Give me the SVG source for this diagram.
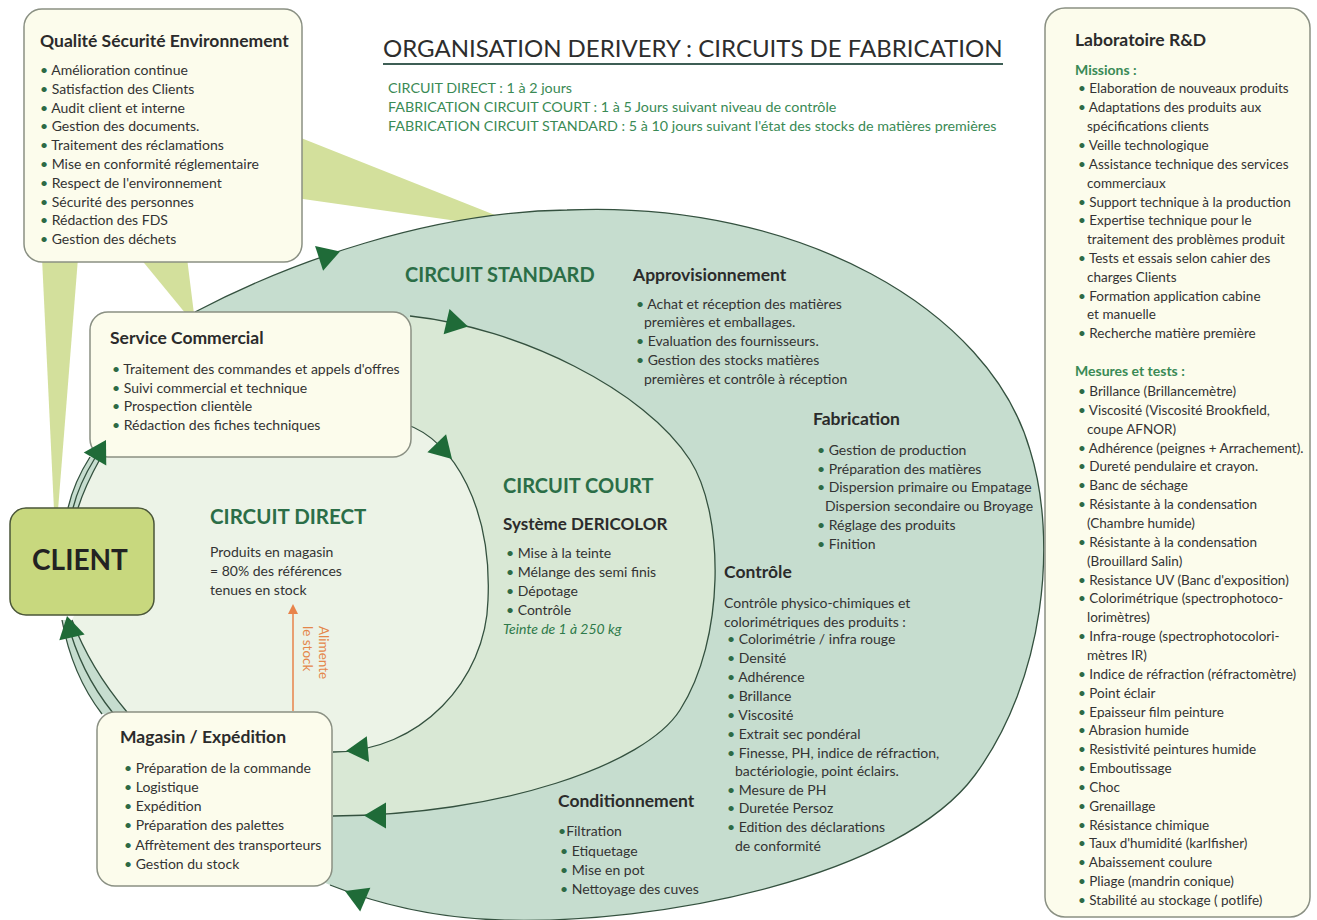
<svg xmlns="http://www.w3.org/2000/svg" width="1317" height="920" viewBox="0 0 1317 920">
<defs>
<style>
text{font-family:Lato,"Liberation Sans",sans-serif;fill:#333}
.box{fill:#fcfcec;stroke:#8a9083;stroke-width:1.5}
.h{font-size:17.5px;font-weight:700;fill:#2b2b2b}
.t{font-size:14px}
.tl{font-size:13.5px}
.big{font-size:20px;font-weight:700;fill:#2b6e47}
.sub{font-size:14.3px;fill:#3a8a55}
.gr{font-size:14px;font-weight:700;fill:#3a8a55}
.b{fill:#2d6a45}
.ln{fill:none;stroke:#34513f;stroke-width:1.3}
.ah{fill:#1f6b38}
.wedge{fill:#d3e09c}
.or{font-size:13.5px;fill:#e4864a}
</style>
<path id="ah" d="M0 0 L-22 -13 L-22 13 Z"/>
<marker id="oa" markerWidth="10" markerHeight="10" refX="8" refY="5" orient="auto" markerUnits="userSpaceOnUse"><path d="M0 0 L10 5 L0 10 Z" fill="#e8834a"/></marker>
</defs>
<rect width="1317" height="920" fill="#ffffff"/>

<!-- QSE beams -->
<g id="beams">
<polygon class="wedge" points="296,136 520,225 520,230 296,198"/>
<polygon class="wedge" points="42,258 78,258 58,510 54,510"/>
<polygon class="wedge" points="140,258 187,258 194,314 186,314"/>
</g>

<!-- circuit areas -->
<g id="areas">
<path fill="#c6ddcf" d="M195 312 C290 262 430 212 567 210 C800 200 990 310 1030 450 C1058 540 1045 680 975 775 C900 877 660 925 500 920 C440 918 380 905 330 885 L250 850 L250 400 Z"/>
<path fill="#d9e8d5" d="M410 316 C520 328 645 390 690 460 C725 515 725 640 680 710 C645 765 500 815 333 816 L300 816 L300 430 Z"/>
<path fill="#ecf3e7" d="M405 424 C455 440 492 510 488 600 C486 680 420 752 333 752 L250 760 L127 712 Q90 668 72 620 L100 560 L78 508 Q85 486 100 459 L200 440 Z"/>
<path fill="#c6ddcf" d="M68 508 Q74 482 90 457 L100 459 Q85 486 78 508 Z"/>
<path fill="#c6ddcf" d="M62 620 Q72 675 102 714 L127 712 Q90 668 72 620 Z"/>
</g>

<g id="connectors">
<path class="ln" d="M195 312 C290 262 430 212 567 210 C800 200 990 310 1030 450 C1058 540 1045 680 975 775 C900 877 660 925 500 920 C440 918 380 905 330 885"/>
<path class="ln" d="M410 316 C520 328 645 390 690 460 C725 515 725 640 680 710 C645 765 500 815 333 816"/>
<path class="ln" d="M405 424 C455 440 492 510 488 600 C486 680 420 752 333 752"/>
<path class="ln" d="M68 508 Q74 482 90 457"/>
<path class="ln" d="M73 508 Q79 484 95 458"/>
<path class="ln" d="M78 508 Q85 486 100 459"/>
<path class="ln" d="M62 620 Q72 675 102 714"/>
<path class="ln" d="M67 620 Q80 672 113 713"/>
<path class="ln" d="M72 620 Q90 668 127 712"/>
<line x1="293" y1="711" x2="293" y2="606" stroke="#e8834a" stroke-width="1.5" marker-end="url(#oa)"/>
</g>

<g id="title">
<text x="383" y="57" font-size="24" style="fill:#2d2d2d">ORGANISATION DERIVERY : CIRCUITS DE FABRICATION</text>
<line x1="383" y1="64" x2="1003" y2="64" stroke="#3e5e55" stroke-width="2"/>
<text class="sub" x="388" y="92.5">CIRCUIT DIRECT : 1 à 2 jours</text>
<text class="sub" x="388" y="111.5">FABRICATION CIRCUIT COURT : 1 à 5 Jours suivant niveau de contrôle</text>
<text class="sub" x="388" y="130.5">FABRICATION CIRCUIT STANDARD : 5 à 10 jours suivant l'état des stocks de matières premières</text>
</g>

<g id="qse">
<rect class="box" x="24" y="9" width="278" height="253" rx="18"/>
<text class="h" x="40" y="47">Qualité Sécurité Environnement</text>
<text class="t" x="40" y="75"><tspan class="b">•</tspan> Amélioration continue</text>
<text class="t" x="40" y="93.8"><tspan class="b">•</tspan> Satisfaction des Clients</text>
<text class="t" x="40" y="112.6"><tspan class="b">•</tspan> Audit client et interne</text>
<text class="t" x="40" y="131.4"><tspan class="b">•</tspan> Gestion des documents.</text>
<text class="t" x="40" y="150.2"><tspan class="b">•</tspan> Traitement des réclamations</text>
<text class="t" x="40" y="169"><tspan class="b">•</tspan> Mise en conformité réglementaire</text>
<text class="t" x="40" y="187.8"><tspan class="b">•</tspan> Respect de l'environnement</text>
<text class="t" x="40" y="206.6"><tspan class="b">•</tspan> Sécurité des personnes</text>
<text class="t" x="40" y="225.4"><tspan class="b">•</tspan> Rédaction des FDS</text>
<text class="t" x="40" y="244.2"><tspan class="b">•</tspan> Gestion des déchets</text>
</g>

<g id="service-commercial">
<rect class="box" x="90" y="312" width="321" height="145" rx="18"/>
<text class="h" x="110" y="344">Service Commercial</text>
<text class="t" x="112" y="374"><tspan class="b">•</tspan> Traitement des commandes et appels d'offres</text>
<text class="t" x="112" y="392.5"><tspan class="b">•</tspan> Suivi commercial et technique</text>
<text class="t" x="112" y="411"><tspan class="b">•</tspan> Prospection clientèle</text>
<text class="t" x="112" y="430"><tspan class="b">•</tspan> Rédaction des fiches techniques</text>
</g>

<g id="client">
<rect x="10" y="508" width="144" height="107" rx="16" fill="#c8d87e" stroke="#4a5638" stroke-width="1.5"/>
<text x="80" y="570" font-size="28" font-weight="700" text-anchor="middle" style="fill:#222">CLIENT</text>
</g>

<g id="magasin">
<rect class="box" x="97" y="712" width="235" height="174" rx="18"/>
<text class="h" x="120" y="743">Magasin / Expédition</text>
<text class="t" x="124" y="773"><tspan class="b">•</tspan> Préparation de la commande</text>
<text class="t" x="124" y="792"><tspan class="b">•</tspan> Logistique</text>
<text class="t" x="124" y="810.5"><tspan class="b">•</tspan> Expédition</text>
<text class="t" x="124" y="830"><tspan class="b">•</tspan> Préparation des palettes</text>
<text class="t" x="124" y="849.5"><tspan class="b">•</tspan> Affrètement des transporteurs</text>
<text class="t" x="124" y="869"><tspan class="b">•</tspan> Gestion du stock</text>
</g>

<g id="circuit-direct">
<text x="210" y="524" font-size="20.5" font-weight="700" style="fill:#2b6e47">CIRCUIT DIRECT</text>
<text class="t" x="210" y="557">Produits en magasin</text>
<text class="t" x="210" y="576">= 80% des références</text>
<text class="t" x="210" y="595">tenues en stock</text>
<text class="or" transform="translate(319 626) rotate(90)">Alimente</text>
<text class="or" transform="translate(303 626) rotate(90)">le stock</text>
</g>

<g id="circuit-court">
<text class="big" x="503" y="493">CIRCUIT COURT</text>
<text x="503" y="530" font-size="17" font-weight="700" style="fill:#2b2b2b">Système DERICOLOR</text>
<text class="t" x="506" y="558"><tspan class="b">•</tspan> Mise à la teinte</text>
<text class="t" x="506" y="577"><tspan class="b">•</tspan> Mélange des semi finis</text>
<text class="t" x="506" y="596"><tspan class="b">•</tspan> Dépotage</text>
<text class="t" x="506" y="615"><tspan class="b">•</tspan> Contrôle</text>
<text class="t" x="503" y="634" font-style="italic" style="fill:#2e7a4a">Teinte de 1 à 250 kg</text>
</g>

<g id="circuit-standard">
<text class="big" x="405" y="282">CIRCUIT STANDARD</text>
<text class="h" x="633" y="281">Approvisionnement</text>
<text class="t" x="636" y="309"><tspan class="b">•</tspan> Achat et réception des matières</text>
<text class="t" x="644" y="327">premières et emballages.</text>
<text class="t" x="636" y="346"><tspan class="b">•</tspan> Evaluation des fournisseurs.</text>
<text class="t" x="636" y="365"><tspan class="b">•</tspan> Gestion des stocks matières</text>
<text class="t" x="644" y="384">premières et contrôle à réception</text>
</g>

<g id="fabrication">
<text class="h" x="813" y="425">Fabrication</text>
<text class="t" x="817" y="455"><tspan class="b">•</tspan> Gestion de production</text>
<text class="t" x="817" y="473.5"><tspan class="b">•</tspan> Préparation des matières</text>
<text class="t" x="817" y="492"><tspan class="b">•</tspan> Dispersion primaire ou Empatage</text>
<text class="t" x="825" y="511">Dispersion secondaire ou Broyage</text>
<text class="t" x="817" y="530"><tspan class="b">•</tspan> Réglage des produits</text>
<text class="t" x="817" y="548.5"><tspan class="b">•</tspan> Finition</text>
</g>

<g id="controle">
<text class="h" x="724" y="578">Contrôle</text>
<text class="t" x="724" y="608">Contrôle physico-chimiques et</text>
<text class="t" x="724" y="626.5">colorimétriques  des produits :</text>
<text class="t" x="727" y="644"><tspan class="b">•</tspan> Colorimétrie / infra rouge</text>
<text class="t" x="727" y="663"><tspan class="b">•</tspan> Densité</text>
<text class="t" x="727" y="682"><tspan class="b">•</tspan> Adhérence</text>
<text class="t" x="727" y="700.5"><tspan class="b">•</tspan> Brillance</text>
<text class="t" x="727" y="719.5"><tspan class="b">•</tspan> Viscosité</text>
<text class="t" x="727" y="739"><tspan class="b">•</tspan> Extrait sec pondéral</text>
<text class="t" x="727" y="757.5"><tspan class="b">•</tspan> Finesse, PH, indice de réfraction,</text>
<text class="t" x="735" y="776">bactériologie, point éclairs.</text>
<text class="t" x="727" y="794.5"><tspan class="b">•</tspan> Mesure de PH</text>
<text class="t" x="727" y="813"><tspan class="b">•</tspan> Duretée Persoz</text>
<text class="t" x="727" y="832"><tspan class="b">•</tspan> Edition des déclarations</text>
<text class="t" x="735" y="851">de conformité</text>
</g>

<g id="conditionnement">
<text class="h" x="558" y="807">Conditionnement</text>
<text class="t" x="558" y="836"><tspan class="b">•</tspan>Filtration</text>
<text class="t" x="560" y="856"><tspan class="b">•</tspan> Etiquetage</text>
<text class="t" x="560" y="875"><tspan class="b">•</tspan> Mise en pot</text>
<text class="t" x="560" y="894"><tspan class="b">•</tspan> Nettoyage des cuves</text>
</g>

<g id="laboratoire">
<rect class="box" x="1045" y="8" width="265" height="909" rx="20"/>
<text class="h" x="1075" y="46">Laboratoire R&amp;D</text>
<text class="gr" x="1075" y="75">Missions :</text>
<text class="tl" x="1078" y="93"><tspan class="b">•</tspan> Elaboration de nouveaux produits</text>
<text class="tl" x="1078" y="112"><tspan class="b">•</tspan> Adaptations des produits aux</text>
<text class="tl" x="1087" y="131">spécifications clients</text>
<text class="tl" x="1078" y="150"><tspan class="b">•</tspan> Veille technologique</text>
<text class="tl" x="1078" y="169"><tspan class="b">•</tspan> Assistance technique des services</text>
<text class="tl" x="1087" y="188">commerciaux</text>
<text class="tl" x="1078" y="206.5"><tspan class="b">•</tspan> Support technique à la production</text>
<text class="tl" x="1078" y="225"><tspan class="b">•</tspan> Expertise technique pour le</text>
<text class="tl" x="1087" y="244">traitement des problèmes produit</text>
<text class="tl" x="1078" y="263"><tspan class="b">•</tspan> Tests et essais selon cahier des</text>
<text class="tl" x="1087" y="281.5">charges Clients</text>
<text class="tl" x="1078" y="300.5"><tspan class="b">•</tspan> Formation application cabine</text>
<text class="tl" x="1087" y="319">et manuelle</text>
<text class="tl" x="1078" y="338"><tspan class="b">•</tspan> Recherche matière première</text>
<text class="gr" x="1075" y="376">Mesures et tests :</text>
<text class="tl" x="1078" y="396"><tspan class="b">•</tspan> Brillance (Brillancemètre)</text>
<text class="tl" x="1078" y="414.9"><tspan class="b">•</tspan> Viscosité (Viscosité Brookfield,</text>
<text class="tl" x="1087" y="433.7">coupe AFNOR)</text>
<text class="tl" x="1078" y="452.6"><tspan class="b">•</tspan> Adhérence (peignes + Arrachement).</text>
<text class="tl" x="1078" y="471.4"><tspan class="b">•</tspan> Dureté pendulaire et crayon.</text>
<text class="tl" x="1078" y="490.3"><tspan class="b">•</tspan> Banc de séchage</text>
<text class="tl" x="1078" y="509.1"><tspan class="b">•</tspan> Résistante à la condensation</text>
<text class="tl" x="1087" y="528">(Chambre humide)</text>
<text class="tl" x="1078" y="546.8"><tspan class="b">•</tspan> Résistante à la condensation</text>
<text class="tl" x="1087" y="565.7">(Brouillard Salin)</text>
<text class="tl" x="1078" y="584.5"><tspan class="b">•</tspan> Resistance UV (Banc d'exposition)</text>
<text class="tl" x="1078" y="603.4"><tspan class="b">•</tspan> Colorimétrique (spectrophotoco-</text>
<text class="tl" x="1087" y="622.2">lorimètres)</text>
<text class="tl" x="1078" y="641.1"><tspan class="b">•</tspan> Infra-rouge  (spectrophotocolori-</text>
<text class="tl" x="1087" y="659.9">mètres IR)</text>
<text class="tl" x="1078" y="678.8"><tspan class="b">•</tspan> Indice de réfraction (réfractomètre)</text>
<text class="tl" x="1078" y="697.6"><tspan class="b">•</tspan> Point éclair</text>
<text class="tl" x="1078" y="716.5"><tspan class="b">•</tspan> Epaisseur film peinture</text>
<text class="tl" x="1078" y="735.3"><tspan class="b">•</tspan> Abrasion humide</text>
<text class="tl" x="1078" y="754.2"><tspan class="b">•</tspan> Resistivité peintures humide</text>
<text class="tl" x="1078" y="773"><tspan class="b">•</tspan> Emboutissage</text>
<text class="tl" x="1078" y="791.9"><tspan class="b">•</tspan> Choc</text>
<text class="tl" x="1078" y="810.7"><tspan class="b">•</tspan> Grenaillage</text>
<text class="tl" x="1078" y="829.6"><tspan class="b">•</tspan> Résistance chimique</text>
<text class="tl" x="1078" y="848.4"><tspan class="b">•</tspan> Taux d'humidité (karlfisher)</text>
<text class="tl" x="1078" y="867.3"><tspan class="b">•</tspan> Abaissement coulure</text>
<text class="tl" x="1078" y="886.1"><tspan class="b">•</tspan> Pliage (mandrin conique)</text>
<text class="tl" x="1078" y="905"><tspan class="b">•</tspan> Stabilité au stockage ( potlife)</text>
</g>

<g id="connector-arrows">
<use href="#ah" class="ah" transform="translate(340 251.5) rotate(-18)"/>
<use href="#ah" class="ah" transform="translate(468 326.5) rotate(13)"/>
<use href="#ah" class="ah" transform="translate(452 459) rotate(46)"/>
<use href="#ah" class="ah" transform="translate(106 440) rotate(-60)"/>
<use href="#ah" class="ah" transform="translate(67 616) rotate(-103)"/>
<use href="#ah" class="ah" transform="translate(346 751) rotate(175)"/>
<use href="#ah" class="ah" transform="translate(364 815.5) rotate(180)"/>
<use href="#ah" class="ah" transform="translate(345 891) rotate(203)"/>
</g>
</svg>
